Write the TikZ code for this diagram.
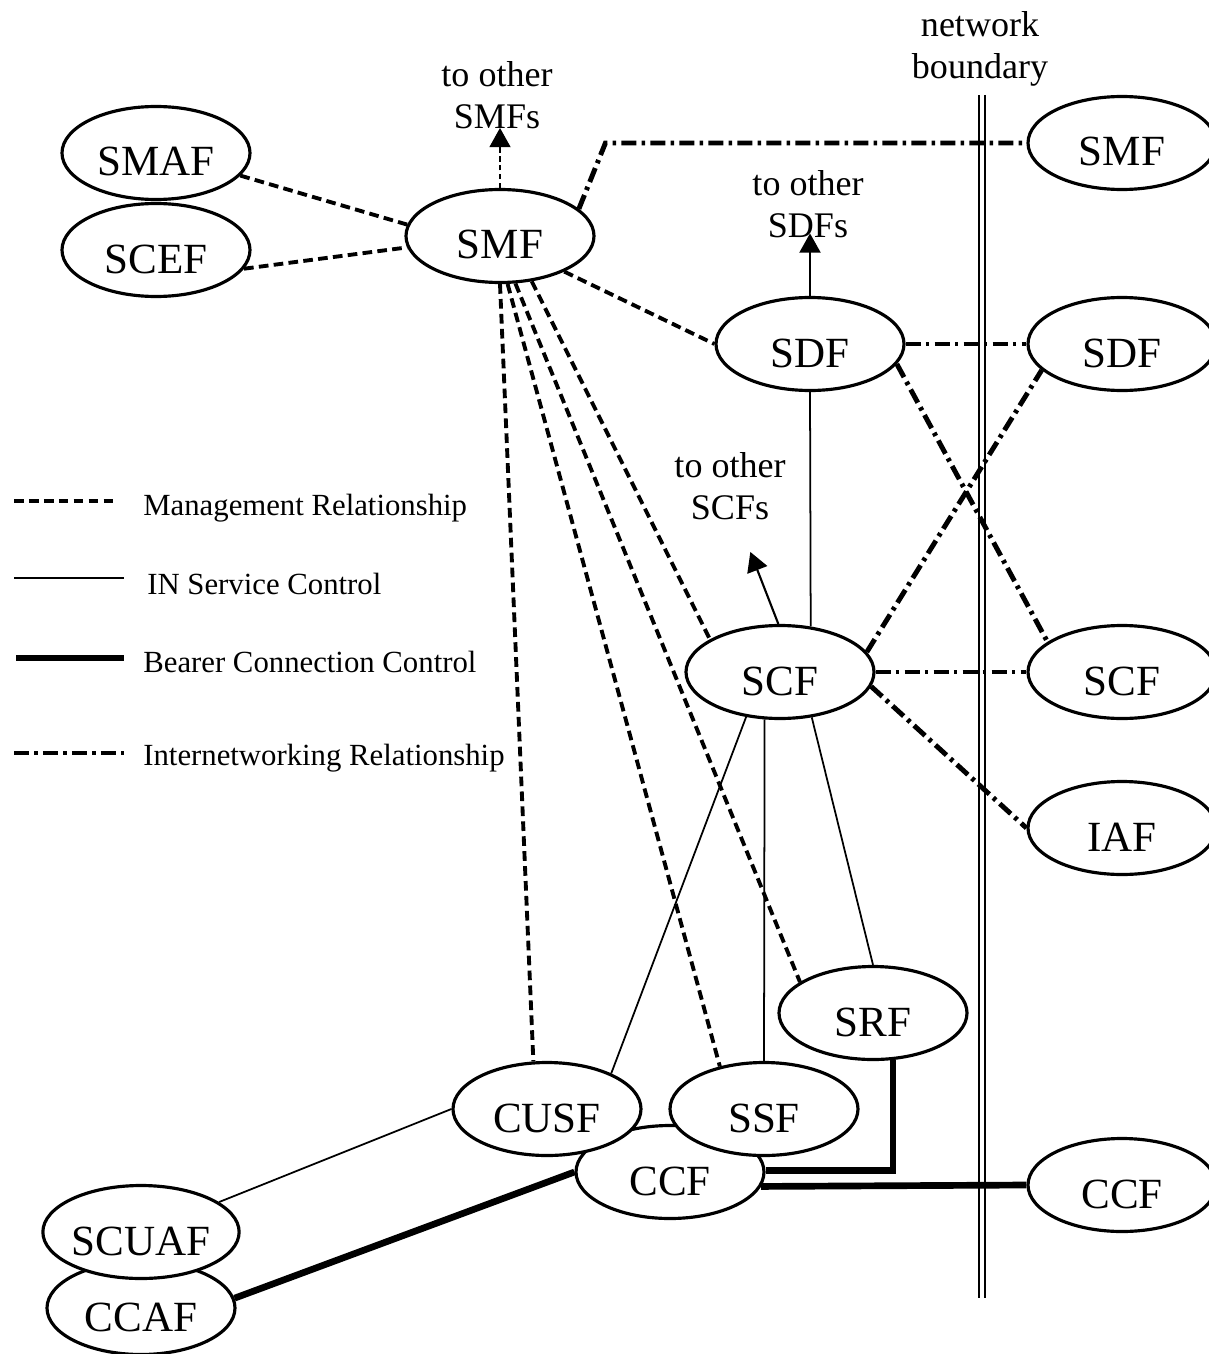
\documentclass[tikz,border=0pt]{standalone}
\usepackage{fontspec}
\setmainfont{Liberation Serif}
\usetikzlibrary{arrows.meta,shapes.geometric}
\usetikzlibrary{positioning}
\tikzset{>={Triangle[width=12pt,length=11pt]}}

\begin{document}
\begin{tikzpicture}[fn/.style={ellipse, draw, fill=white, line width=1.8pt, inner sep=0pt, minimum width=3.76cm, minimum height=1.86cm, text height=0.92cm, text depth=0cm, font=\fontsize{24.5}{28}\selectfont},
		note/.style={align=center, inner sep=0pt, font=\fontsize{20.5}{24}\selectfont},
		legend/.style={anchor=base west, inner sep=0pt, font=\fontsize{17.5}{20}\selectfont},
		mgmt/.style={line width=2.2pt, dash pattern=on 5.5pt off 3pt},
		intw/.style={line width=2.8pt, dash pattern=on 8.5pt off 3pt on 2pt off 3pt},
		svc/.style={line width=1pt},
		bearer/.style={line width=3.8pt},
		boundary/.style={double, line width=1pt, double distance=2.8pt},
		node distance=1cm, on grid]
		\useasboundingbox (0,0) rectangle (24.16,-27.08);
		% network boundary
		\node[note] (nb) at (19.6,-0.98) {network\\boundary};
		\coordinate (nbtop) at (19.64,-1.9);
		\coordinate (nbbot) at (19.64,-25.96);
		\draw[boundary] (nbtop) -- (nbbot);
		% functional entities
		\node[fn] (smf) at (10,-4.72) {SMF};
		\node[fn] (smaf) [above left=1.66cm and 6.88cm of smf] {SMAF};
		\node[fn] (scef) [below=1.94cm of smaf] {SCEF};
		\node[fn] (sdf) [below right=2.16cm and 6.2cm of smf] {SDF};
		\node[fn] (scf) [below left=6.56cm and 0.6cm of sdf] {SCF};
		\node[fn] (rsmf) [above right=4.02cm and 6.24cm of sdf] {SMF};
		\node[fn] (rsdf) [right=6.24cm of sdf] {SDF};
		\node[fn] (rscf) [right=6.84cm of scf] {SCF};
		\node[fn] (iaf) [below=3.12cm of rscf] {IAF};
		\node[fn] (rccf) [below=10.26cm of rscf] {CCF};
		\node[fn] (srf) [below right=6.82cm and 1.86cm of scf] {SRF};
		\node[fn] (ccf) [below left=10cm and 2.2cm of scf] {CCF};
		\node[fn] (ssf) [above right=1.26cm and 1.88cm of ccf] {SSF};
		\node[fn] (cusf) [left=4.34cm of ssf] {CUSF};
		\node[fn] (ccaf) [below left=2.72cm and 10.58cm of ccf] {CCAF};
		\node[fn] (scuaf) [above=1.52cm of ccaf] {SCUAF};
		% to other ...
		\node[note] (tosmf) at (9.94,-1.9) {to other\\SMFs};
		\node[note] (tosdf) at (16.16,-4.08) {to other\\SDFs};
		\node[note] (toscf) at (14.6,-9.72) {to other\\SCFs};
		\coordinate (smfout) at ([yshift=1.2cm]smf.north);
		\coordinate (sdfout) at ([yshift=1.25cm]sdf.north);
		\coordinate (scfout) at ([shift={(-0.56cm,1.44cm)}]scf.92);
		\draw[->, line width=0.9pt, dash pattern=on 3pt off 2pt] (smf.north) -- (smfout);
		\draw[->, line width=1.2pt] (sdf.north) -- (sdfout);
		\draw[->, line width=1.2pt] (scf.92) -- (scfout);
		% management
		\path[mgmt]
			(smaf.-15) edge (smf.173)
			(scef.-12) edge (smf.187)
			(smf.-29) edge (sdf.180)
			(smf.-90) edge (cusf.106)
			(smf.-81) edge (ssf.136)
			(smf.-72) edge (srf.157)
			(smf.-55) edge (scf.155);
		% internetworking
		\draw[intw] (smf.19) -- ([xshift=-8.42cm]rsmf.west) -- (rsmf.west);
		\path[intw]
			(sdf.east) edge (rsdf.west)
			(sdf.-13) edge (rscf.158)
			(scf.13) edge (rsdf.-162)
			(scf.east) edge (rscf.west)
			(scf.-9) edge (iaf.west);
		% IN service control
		\path[svc]
			(sdf.south) edge (scf.56)
			(scf.-127) edge (cusf.29)
			(scf.-108) edge (ssf.north)
			(scf.-55) edge (srf.north)
			(scuaf.21) edge (cusf.west);
		% bearer connection control
		\draw[bearer] (ccaf.6) -- (ccf.west);
		\draw[bearer] (ccf.1) -| (srf.-67);
		\draw[bearer] (ccf.-9) -- (rccf.west);
		% legend
		\node[legend] (lmgmt) at (2.86,-10.3) {Management Relationship};
		\node[legend] (lsvc) at (2.94,-11.88) {IN Service Control};
		\node[legend] (lbearer) at (2.86,-13.44) {Bearer Connection Control};
		\node[legend] (lintw) at (2.86,-15.3) {Internetworking Relationship};
		\draw[mgmt] ([shift={(-2.58cm,0.28cm)}]lmgmt.base west) -- ([shift={(-0.5cm,0.28cm)}]lmgmt.base west);
		\draw[svc] ([shift={(-2.66cm,0.32cm)}]lsvc.base west) -- ([shift={(-0.46cm,0.32cm)}]lsvc.base west);
		\draw[bearer] ([shift={(-2.54cm,0.28cm)}]lbearer.base west) -- ([shift={(-0.38cm,0.28cm)}]lbearer.base west);
		\draw[intw] ([shift={(-2.58cm,0.24cm)}]lintw.base west) -- ([shift={(-0.38cm,0.24cm)}]lintw.base west);
	\end{tikzpicture}
\end{document}
